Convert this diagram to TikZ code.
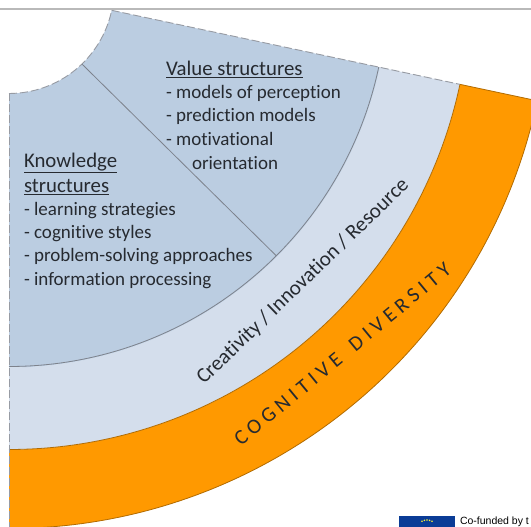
\documentclass[tikz,border=0pt]{standalone}
\usepackage{fontspec}
\setmainfont{Carlito}[Ligatures=NoCommon]
\setsansfont{Liberation Sans}
\definecolor{mid}{RGB}{187,205,225}
\definecolor{light}{RGB}{212,222,236}
\definecolor{org}{RGB}{255,153,0}
\definecolor{ink}{RGB}{38,42,48}
\definecolor{edgeg}{RGB}{125,130,140}
\definecolor{flag}{RGB}{10,60,150}
\newcommand{\heading}[1]{\underline{#1}}
\tikzset{
  every node/.style={inner sep=0pt,outer sep=0pt,anchor=base west,text=ink,font=\fontsize{19}{19}\selectfont},
  headtext/.style={font=\fontsize{20.8}{21}\selectfont},
  seam/.style={draw=edgeg,line width=0.8pt},
  dashedge/.style={draw=edgeg!80,line width=0.9pt,dash pattern=on 8pt off 3pt},
}
\begin{document}
\begin{tikzpicture}[x=1pt,y=1pt]
\useasboundingbox (0,0) rectangle (531,527);
\clip (0,0) rectangle (531,527);
\fill[white] (0,0) rectangle (531,527);
\draw[gray!55,line width=2.4pt] (0,518.2) -- (531,518.2);
\begin{scope}[shift={(9,538.5)}]
  \fill[org] (-90:540) arc[start angle=-90,end angle=-12,radius=540] -- (-12:461) arc[start angle=-12,end angle=-90,radius=461] -- cycle;
  \fill[light] (-90:461) arc[start angle=-90,end angle=-12,radius=461] -- (-12:379) arc[start angle=-12,end angle=-90,radius=379] -- cycle;
  \fill[mid] (-90:379) arc[start angle=-90,end angle=-12,radius=379] -- (-12:105) arc[start angle=-12,end angle=-90,radius=105] -- cycle;
  \draw[seam,draw=org!70!black] (-90:540) arc[start angle=-90,end angle=-12,radius=540];
  \draw[seam,draw=org!70!black] (-90:461) arc[start angle=-90,end angle=-12,radius=461];
  \draw[seam] (-90:378) arc[start angle=-90,end angle=-12,radius=378];
  \draw[dashedge] (-90:105) arc[start angle=-90,end angle=-12,radius=105];
  \draw[dashedge] (-12:105) -- (-12:461);
  \draw[seam,draw=org!70!black] (-12:461) -- (-12:540);
  \draw[dashedge] (-90:105) -- (-90:540);
  \coordinate (da) at (-46:105);
  \coordinate (db) at (-45:378);
  \draw[seam] (da) -- (db);
\end{scope}
\node[headtext] (v1) at (166,451) {\heading{Value structures}};
\node (v2) at (166,428) {- models of perception};
\node (v3) at (166,405) {- prediction models};
\node (v4) at (166,381) {- motivational};
\node (v5) at (192,357) {orientation};
\node[headtext] (k1) at (24,359.5) {\heading{Knowledge}};
\node[headtext] (k2) at (24,334.5) {\heading{structures}};
\node (k3) at (24,311) {- learning strategies};
\node (k4) at (24,288) {- cognitive styles};
\node (k5) at (24,265) {- problem-solving approaches};
\node (k6) at (24,241) {- information processing};
\node[rotate=44,font=\fontsize{21}{21}\selectfont] (c) at (204,142) {Creativity / Innovation / Resource};
\node[rotate=39.6,font=\fontsize{21}{21}\selectfont] (d) at (241,80) {\addfontfeatures{LetterSpace=23}COGNITIVE\hspace{6pt} DIVERSITY};
\fill[flag] (399,0) rectangle (455,11);
\foreach \a in {60,75,90,105,120}{\fill[yellow!80!white] (427,-3)++(\a:10) circle(0.9);}
\node[font=\sffamily\fontsize{10.5}{10.5}\selectfont,text=black] (f) at (460,2.5) {Co-funded by t};
\end{tikzpicture}
\end{document}
